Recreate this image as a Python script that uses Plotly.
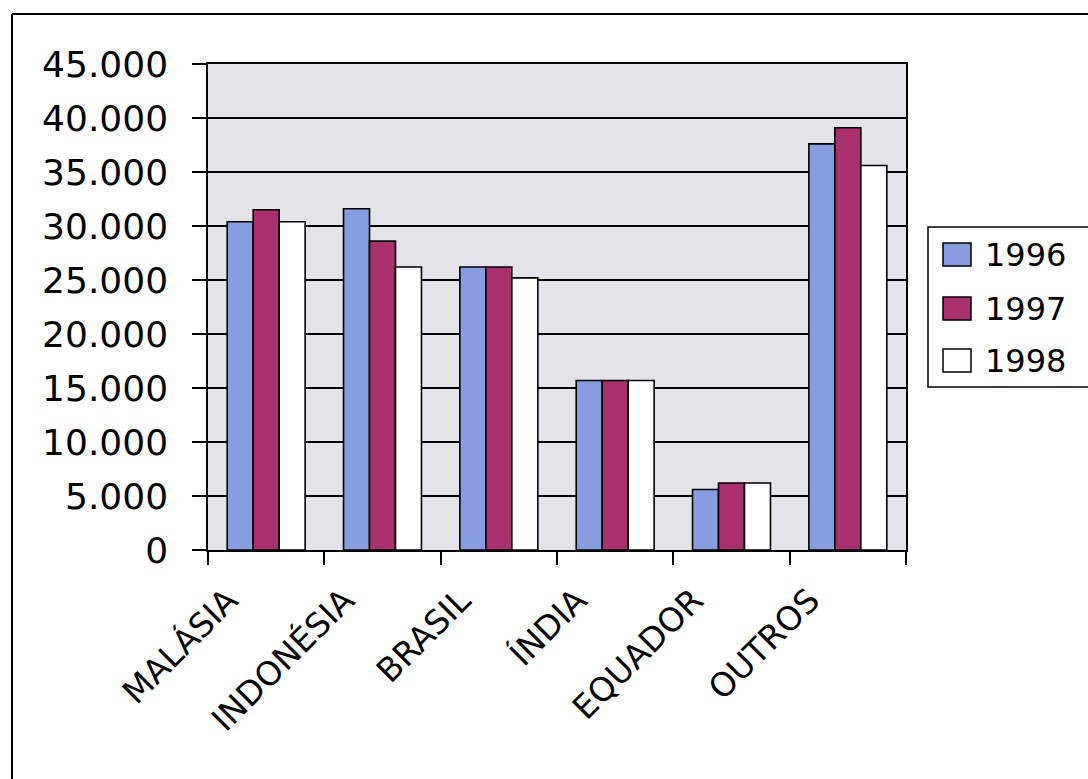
import plotly.graph_objects as go

# Production by country (tonnes), three seasons
countries = ["MALÁSIA", "INDONÉSIA", "BRASIL", "ÍNDIA", "EQUADOR", "OUTROS"]
years = ["1996", "1997", "1998"]
v1996 = [30400, 31600, 26200, 15700, 5600, 37600]
v1997 = [31500, 28600, 26200, 15700, 6200, 39100]
v1998 = [30400, 26200, 25200, 15700, 6200, 35600]
y_ticks = [0, 5000, 10000, 15000, 20000, 25000, 30000, 35000, 40000, 45000]

colors = ["#889CE0", "#A8306E", "#FFFFFF"]
series = [v1996, v1997, v1998]

W, H = 1088, 779
L, R, T, B = 208, 182, 64, 229
plot_w = W - L - R
plot_h = H - T - B

FONT = "DejaVu Sans"

fig = go.Figure()
for name, vals, col in zip(years, series, colors):
    fig.add_trace(go.Bar(
        x=countries, y=vals, name=name,
        marker=dict(color=col, line=dict(color="#000000", width=1.6)),
        showlegend=False,
    ))


def px_x(p):
    return (p - L) / plot_w


def px_y(p):
    return (H - B - p) / plot_h


shapes = []
annotations = []

# outer chart frame (top and left edges)
shapes.append(dict(type="line", xref="paper", yref="paper",
                   x0=px_x(12), x1=px_x(1100), y0=px_y(14), y1=px_y(14),
                   line=dict(color="#000", width=2)))
shapes.append(dict(type="line", xref="paper", yref="paper",
                   x0=px_x(12), x1=px_x(12), y0=px_y(14), y1=px_y(790),
                   line=dict(color="#000", width=2)))

# legend box
shapes.append(dict(type="rect", xref="paper", yref="paper",
                   x0=px_x(928), x1=px_x(1100), y0=px_y(227), y1=px_y(387),
                   line=dict(color="#000", width=1.5), fillcolor="#FFFFFF"))
swatch_tops = [243, 297, 349]
for name, col, top in zip(years, colors, swatch_tops):
    shapes.append(dict(type="rect", xref="paper", yref="paper",
                       x0=px_x(943), x1=px_x(971), y0=px_y(top), y1=px_y(top + 23),
                       line=dict(color="#000", width=1.5), fillcolor=col))
    annotations.append(dict(xref="paper", yref="paper", x=px_x(983), y=px_y(top + 12),
                            text=name, showarrow=False, xanchor="left", yanchor="middle",
                            font=dict(family=FONT, size=32, color="#000")))

fig.update_layout(
    width=W, height=H,
    margin=dict(l=L, r=R, t=T, b=B, pad=0),
    paper_bgcolor="#FFFFFF",
    plot_bgcolor="#E5E3EA",
    barmode="group",
    bargap=0.33,
    bargroupgap=0,
    separators=",.",
    showlegend=False,
    shapes=shapes,
    annotations=annotations,
    font=dict(family=FONT, color="#000"),
)
fig.update_xaxes(
    type="category",
    tickson="boundaries",
    ticks="outside", ticklen=13, tickwidth=1.5, tickcolor="#000",
    tickangle=-45,
    tickfont=dict(family=FONT, size=33, color="#000"),
    ticklabelstandoff=16,
    ticklabelshift=-38,
    showline=True, linecolor="#000", linewidth=1.5, mirror=True,
    showgrid=False,
)
fig.update_yaxes(
    range=[0, 45000],
    tickvals=y_ticks,
    tickformat=",d",
    ticks="outside", ticklen=14, tickwidth=1.5, tickcolor="#000",
    tickfont=dict(family=FONT, size=36, color="#000"),
    ticklabelstandoff=17,
    showgrid=True, gridcolor="#000", gridwidth=1.5,
    showline=True, linecolor="#000", linewidth=1.5, mirror=True,
    zeroline=False,
)

fig.write_html("out.html")
